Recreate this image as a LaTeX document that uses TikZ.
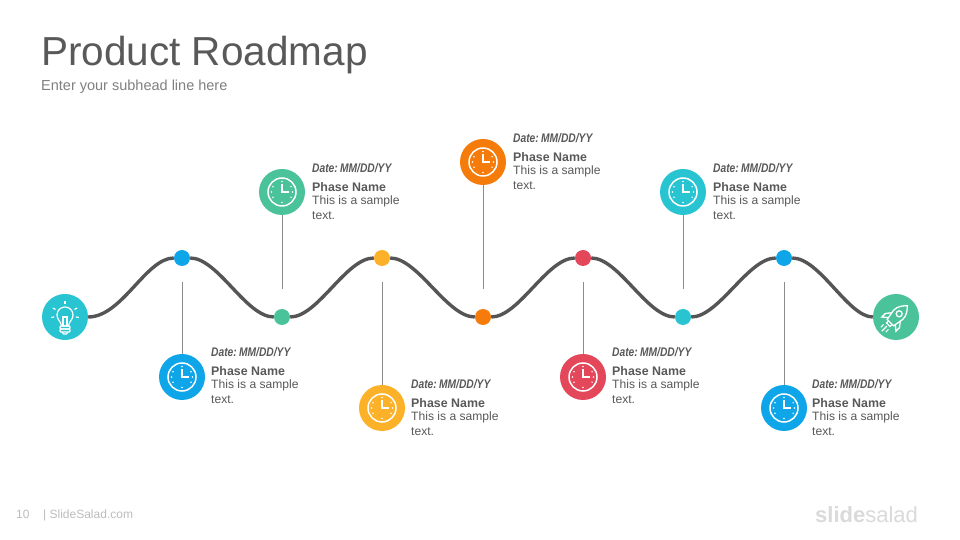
\documentclass[tikz,border=0pt]{standalone}
\usepackage{fontspec}
\setmainfont{Liberation Sans}
\newfontfamily\datefont[FakeStretch=0.82]{Liberation Sans}
\definecolor{inkgray}{HTML}{595959}
\definecolor{subgray}{HTML}{808080}
\definecolor{footgray}{HTML}{BDBDBD}
\definecolor{logogray}{HTML}{DADADA}
\definecolor{wavegray}{HTML}{555555}
\definecolor{stemgray}{HTML}{8C8C8C}
\definecolor{cteal}{HTML}{29C4D2}
\definecolor{cblue}{HTML}{0FA6E9}
\definecolor{cgreen}{HTML}{4AC29A}
\definecolor{cyellow}{HTML}{FDB128}
\definecolor{corange}{HTML}{F57C0A}
\definecolor{cred}{HTML}{E4465A}
\newcommand{\phaselabel}{{\datefont\fontsize{12.5bp}{13bp}\selectfont\bfseries\itshape Date:\hspace{-1.5bp} MM/DD/YY}\\[5bp]{\bfseries Phase Name}\\[-2bp]{\fontsize{12.1bp}{14.6bp}\selectfont This is a sample}\\{\fontsize{12.1bp}{14.6bp}\selectfont text.}}
\tikzset{
  dotnode/.style={circle,fill=#1,draw=none,minimum size=16bp,inner sep=0pt},
  phasenode/.style={circle,fill=#1,draw=none,minimum size=46bp,inner sep=0pt},
  phasetext/.style={anchor=north west,inner sep=0pt,align=left,text=inkgray,
    font=\fontsize{12.4bp}{14.6bp}\selectfont},
  wave/.style={draw=wavegray,line width=3.4bp},
  stem/.style={draw=stemgray,line width=0.8bp},
  clockface/.pic={
    \draw [white,line width=1.5bp] (0bp,0bp) circle (14bp);
    \draw [white,line width=1.5bp] (0bp,8bp) -- (0bp,0bp) -- (6.5bp,0bp);
    \foreach \ang in {0,90,180,270,30,150,210,330}
      \fill [white] (\ang:10.5bp) circle (0.85bp);
  },
  bulbface/.pic={
    \begin{scope}[yshift=-3bp]
    \draw [white,line width=1.2bp] (-3.5bp,-6bp) .. controls (-4bp,-1bp) and (-8bp,0bp) .. (-8bp,5bp)
      .. controls (-8bp,10bp) and (-4bp,13bp) .. (0bp,13bp)
      .. controls (4bp,13bp) and (8bp,10bp) .. (8bp,5bp)
      .. controls (8bp,0bp) and (4bp,-1bp) .. (3.5bp,-6bp) -- cycle;
    \draw [white,line width=1.2bp] (-2bp,-6bp) -- (-2bp,3bp) -- (2bp,3bp) -- (2bp,-6bp);
    \draw [white,line width=1.2bp,rounded corners=1bp] (-5bp,-6bp) rectangle (5bp,-9bp);
    \draw [white,line width=1.2bp,rounded corners=1bp] (-5bp,-9bp) rectangle (5bp,-12bp);
    \draw [white,line width=1.2bp] (-3bp,-12bp) -- (-1.5bp,-14bp) -- (1.5bp,-14bp) -- (3bp,-12bp);
    \foreach \ang in {90,30,150,-10,190}
      \draw [white,line width=1.2bp] (\ang:0bp) ++(0bp,5bp) ++(\ang:11bp) -- ++(\ang:3bp);
    \end{scope}
  },
  rocketface/.pic={
    \begin{scope}[rotate=-45]
      \draw [white,line width=1.3bp] (-4.5bp,-8bp) -- (-6.5bp,3bp)
        .. controls (-6.5bp,9bp) and (-3bp,13bp) .. (0bp,16bp)
        .. controls (3bp,13bp) and (6.5bp,9bp) .. (6.5bp,3bp) -- (4.5bp,-8bp) -- cycle;
      \draw [white,line width=1.3bp] (0bp,4.5bp) circle (3bp);
      \draw [white,line width=1.3bp] (-6bp,0bp) -- (-10bp,-5bp) -- (-10bp,-10bp) -- (-5bp,-6bp);
      \draw [white,line width=1.3bp] (6bp,0bp) -- (10bp,-5bp) -- (10bp,-10bp) -- (5bp,-6bp);
      \draw [white,line width=1.3bp] (-2.5bp,-8bp) -- (-2.5bp,-11bp) -- (2.5bp,-11bp) -- (2.5bp,-8bp);
      \draw [white,line width=1.1bp] (0bp,-13bp) -- (0bp,-20bp);
      \draw [white,line width=1.1bp] (-3.5bp,-14bp) -- (-3.5bp,-18bp);
      \draw [white,line width=1.1bp] (3.5bp,-14bp) -- (3.5bp,-18bp);
    \end{scope}
  },
}
\begin{document}
\begin{tikzpicture}
    \useasboundingbox (0bp,0bp) rectangle (960bp,540bp);
    \fill [white] (0bp,0bp) rectangle (960bp,540bp);
    %% headings
    \node (title) at (41bp,474bp) [anchor=base west,inner sep=0pt,text=inkgray,font=\fontsize{40.5bp}{44bp}\selectfont] {Product Roadmap};
    \node (subhead) at (41bp,449bp) [anchor=base west,inner sep=0pt,text=subgray,font=\fontsize{14.5bp}{16bp}\selectfont] {Enter your subhead line here};
    %% wave
    \node (start) at (65bp,223bp) [phasenode=cteal] {};
    \node (d1) at (182bp,282bp) [dotnode=cblue] {};
    \node (d2) at (282bp,223bp) [dotnode=cgreen] {};
    \node (d3) at (382bp,282bp) [dotnode=cyellow] {};
    \node (d4) at (483bp,223bp) [dotnode=corange] {};
    \node (d5) at (583bp,282bp) [dotnode=cred] {};
    \node (d6) at (683bp,223bp) [dotnode=cteal] {};
    \node (d7) at (784bp,282bp) [dotnode=cblue] {};
    \node (end) at (896bp,223bp) [phasenode=cgreen] {};
    \draw [wave] (start) ..controls (122bp,223bp) and (146bp,282bp) .. (d1);
    \draw [wave] (d1) ..controls (218bp,282bp) and (246bp,223bp) .. (d2);
    \draw [wave] (d2) ..controls (318bp,223bp) and (346bp,282bp) .. (d3);
    \draw [wave] (d3) ..controls (418bp,282bp) and (447bp,223bp) .. (d4);
    \draw [wave] (d4) ..controls (519bp,223bp) and (547bp,282bp) .. (d5);
    \draw [wave] (d5) ..controls (619bp,282bp) and (647bp,223bp) .. (d6);
    \draw [wave] (d6) ..controls (719bp,223bp) and (748bp,282bp) .. (d7);
    \draw [wave] (d7) ..controls (820bp,282bp) and (848bp,223bp) .. (end);
    %% phases
    \node (c1) at (182bp,163bp) [phasenode=cblue] {};
    \node (c2) at (282bp,348bp) [phasenode=cgreen] {};
    \node (c3) at (382bp,132bp) [phasenode=cyellow] {};
    \node (c4) at (483bp,378bp) [phasenode=corange] {};
    \node (c5) at (583bp,163bp) [phasenode=cred] {};
    \node (c6) at (683bp,348bp) [phasenode=cteal] {};
    \node (c7) at (784bp,132bp) [phasenode=cblue] {};
    %% free stem ends
    \coordinate (e1) at (182bp,258bp);
    \coordinate (e2) at (282bp,251bp);
    \coordinate (e3) at (382bp,258bp);
    \coordinate (e4) at (483bp,251bp);
    \coordinate (e5) at (583bp,258bp);
    \coordinate (e6) at (683bp,251bp);
    \coordinate (e7) at (784bp,258bp);
    \draw [stem] (c1) -- (e1);
    \draw [stem] (c2) -- (e2);
    \draw [stem] (c3) -- (e3);
    \draw [stem] (c4) -- (e4);
    \draw [stem] (c5) -- (e5);
    \draw [stem] (c6) -- (e6);
    \draw [stem] (c7) -- (e7);
    %% icons
    \pic at (c1) {clockface};
    \pic at (c2) {clockface};
    \pic at (c3) {clockface};
    \pic at (c4) {clockface};
    \pic at (c5) {clockface};
    \pic at (c6) {clockface};
    \pic at (c7) {clockface};
    \pic at (start) {bulbface};
    \pic at (end) {rocketface};
    %% labels
    \node (t1) at (211bp,193bp) [phasetext] {\phaselabel};
    \node (t2) at (312bp,377bp) [phasetext] {\phaselabel};
    \node (t3) at (411bp,161bp) [phasetext] {\phaselabel};
    \node (t4) at (513bp,407bp) [phasetext] {\phaselabel};
    \node (t5) at (612bp,193bp) [phasetext] {\phaselabel};
    \node (t6) at (713bp,377bp) [phasetext] {\phaselabel};
    \node (t7) at (812bp,161bp) [phasetext] {\phaselabel};
    %% footer
    \node (pageno) at (16bp,22bp) [anchor=base west,inner sep=0pt,text=footgray,font=\fontsize{12bp}{14bp}\selectfont] {10};
    \node (site) at (43bp,22bp) [anchor=base west,inner sep=0pt,text=footgray,font=\fontsize{12bp}{14bp}\selectfont] {| SlideSalad.com};
    \node (logo) at (815bp,18bp) [anchor=base west,inner sep=0pt,text=logogray,font=\fontsize{22bp}{26bp}\selectfont] {{\bfseries slide}salad};
\end{tikzpicture}
\end{document}
